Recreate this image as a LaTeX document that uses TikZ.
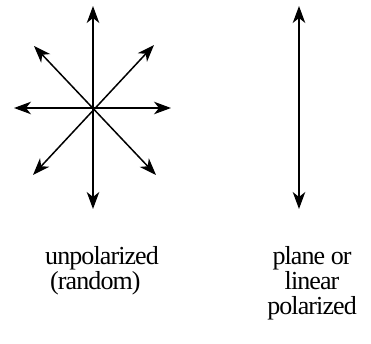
\documentclass[tikz,border=0pt]{standalone}
\usepackage{fontspec}
\setmainfont[LetterSpace=-3.5]{Liberation Serif}
\usetikzlibrary{arrows.meta}
\tikzset{
  vec/.style={line width=1.5pt, {Stealth[length=17pt,width=12.5pt,inset=5pt]}-{Stealth[length=17pt,width=12.5pt,inset=5pt]}},
  lbl/.style={font=\fontsize{26}{25}\selectfont, inner sep=0pt, anchor=base}
}
\begin{document}
\begin{tikzpicture}[x=1pt,y=-1pt]
\useasboundingbox (0,0) rectangle (371,344);
\coordinate (c) at (93,108);
\coordinate (n) at (93,6);
\coordinate (s) at (93,209);
\coordinate (w) at (14,108);
\coordinate (e) at (171,108);
\coordinate (nw) at (34,46);
\coordinate (ne) at (154,45);
\coordinate (sw) at (33,175);
\coordinate (se) at (156,175);
\draw[vec] (n) -- (s);
\draw[vec] (w) -- (e);
\draw[vec] (nw) -- (se);
\draw[vec] (ne) -- (sw);
\coordinate (rn) at (299,6);
\coordinate (rs) at (299,209);
\draw[vec] (rn) -- (rs);
\node[lbl, align=left, anchor=base west] (u) at (45,289) {unpolarized\\\hspace{5pt}(random)};
\node[lbl, align=center] (p) at (312,314) {plane or\\linear\\polarized};
\end{tikzpicture}
\end{document}
